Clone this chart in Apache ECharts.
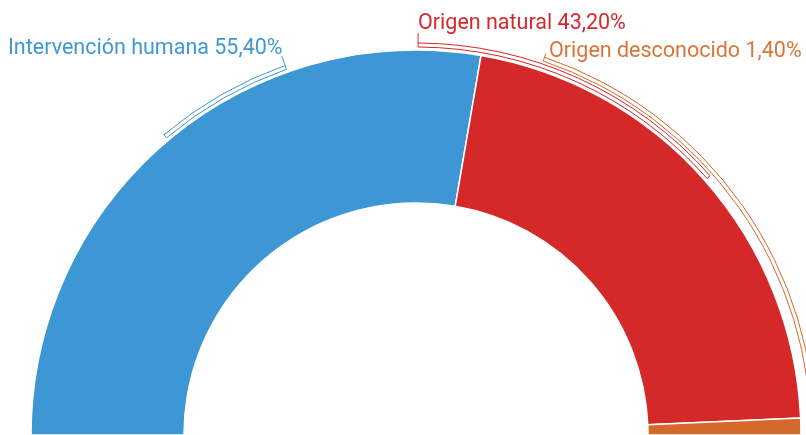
<!DOCTYPE html>
<html>
<head>
<meta charset="utf-8">
<script src="https://cdn.jsdelivr.net/npm/echarts@6/dist/echarts.min.js"></script>
<style>
  html, body { margin: 0; padding: 0; background: #ffffff; }
  #chart { width: 806px; height: 435px; }
</style>
</head>
<body>
<div id="chart"></div>
<script>
// Origin of the fires (share of total, %)
const categories = ['Intervención humana', 'Origen natural', 'Origen desconocido'];
const shares = [55.4, 43.2, 1.4];

// Styling
const sliceColors = ['#3d97d5', '#d42829', '#d4692b'];
const labelColors = ['#3f98d6', '#d42a2e', '#d8763a'];

// Geometry of the half doughnut (px)
const CX = 416, CY = 435, R_IN = 232, R_OUT = 385;

// Callout brackets: angular span in degrees (0 = right, 90 = top), ring radii,
// the angle where the tick rises to the label, and the label anchor.
const brackets = [
  { from: 130.0, to: 109.5, hookAt: 109.5, r0: 388, r1: 392, hookTo: 402, labelX: 8,   labelY: 60 },
  { from: 89.7,  to: 41.4,  hookAt: 89.7,  r0: 388, r1: 392, hookTo: 402, labelX: 418, labelY: 34.5 },
  { from: 71.2,  to: -1.0,  hookAt: 71.2,  r0: 395, r1: 399, hookTo: 403, labelX: 549, labelY: 62.5 }
];

const fmt = v => v.toFixed(2).replace('.', ',') + '%';
const rad = d => d * Math.PI / 180;
const pt = (deg, r) => [CX + r * Math.cos(rad(deg)), CY - r * Math.sin(rad(deg))];

const graphics = [];
brackets.forEach((b, i) => {
  // thin outlined ring segment following the arc
  graphics.push({
    type: 'sector',
    silent: true,
    shape: {
      cx: CX, cy: CY, r0: b.r0, r: b.r1,
      startAngle: -rad(b.from), endAngle: -rad(b.to), clockwise: true
    },
    style: { fill: 'none', stroke: sliceColors[i], lineWidth: 1 }
  });
  // radial tick up to the label
  const p0 = pt(b.hookAt, b.r1), p1 = pt(b.hookAt, b.hookTo);
  graphics.push({
    type: 'line',
    silent: true,
    shape: { x1: p0[0], y1: p0[1], x2: p1[0], y2: p1[1] },
    style: { stroke: sliceColors[i], lineWidth: 1 }
  });
  graphics.push({
    type: 'text',
    silent: true,
    x: b.labelX,
    y: b.labelY,
    style: {
      text: categories[i] + ' ' + fmt(shares[i]),
      font: '400 21.5px Roboto, "Noto Sans", sans-serif',
      fill: labelColors[i],
      textAlign: 'left',
      textVerticalAlign: 'bottom'
    }
  });
});

const chart = echarts.init(document.getElementById('chart'), null, { renderer: 'canvas' });
chart.setOption({
  animation: false,
  backgroundColor: '#ffffff',
  series: [{
    type: 'pie',
    center: [CX, CY],
    radius: [R_IN, R_OUT],
    startAngle: 180,
    endAngle: 360,
    clockwise: true,
    silent: true,
    label: { show: false },
    labelLine: { show: false },
    itemStyle: { borderColor: '#ffffff', borderWidth: 1.5 },
    data: categories.map((name, i) => ({
      name: name,
      value: shares[i],
      itemStyle: { color: sliceColors[i] }
    }))
  }],
  graphic: graphics
});
</script>
</body>
</html>
